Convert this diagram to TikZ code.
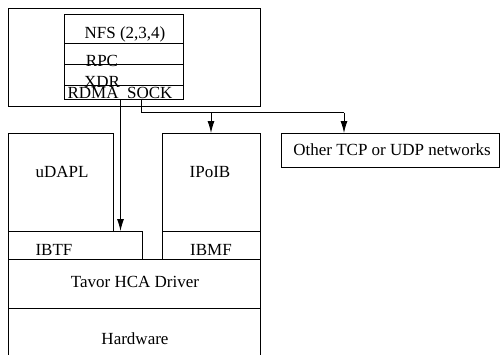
\documentclass[tikz,border=0pt]{standalone}
\usepackage{fontspec}
\setmainfont{Liberation Serif}
\usetikzlibrary{arrows.meta}
\begin{document}
\begin{tikzpicture}[x=1pt,y=-1pt,line width=0.9pt,
  box/.style={draw,rectangle,inner sep=0pt,anchor=north west},
  txt/.style={anchor=base,inner sep=0pt,font=\fontsize{17}{20}\selectfont},
  arr/.style={-{Latex[length=12pt,width=7pt]}}]
\useasboundingbox (0,0) rectangle (500,354);
\begin{scope}
\clip (0,0) rectangle (500,354);
% host side: NFS stack inside the client box
\node[box,minimum width=252pt,minimum height=98pt] (host) at (8,8) {};
\node[box,minimum width=119pt,minimum height=29pt] (nfs) at (64,14) {};
\node[box,minimum width=119pt,minimum height=21pt] (rpc) at (64,43) {};
\node[box,minimum width=119pt,minimum height=21pt] (xdr) at (64,64) {};
\node[box,minimum width=119pt,minimum height=14pt] (rdmasock) at (64,85) {};
\node[txt] (tnfs) at (125,38) {NFS (2,3,4)};
\node[txt] (trpc) at (102,66) {RPC};
\node[txt] (txdr) at (102,87) {XDR};
\node[txt] (trdma) at (120,98.5) {RDMA\ \ SOCK};
% InfiniBand stack
\node[box,minimum width=105pt,minimum height=98pt] (udapl) at (8,133) {};
\node[box,minimum width=133.5pt,minimum height=28pt] (ibtf) at (8,231) {};
\node[box,minimum width=98pt,minimum height=98pt] (ipoib) at (162,133) {};
\node[box,minimum width=98pt,minimum height=28pt] (ibmf) at (162,231) {};
\node[box,minimum width=252pt,minimum height=49pt] (tavor) at (8,259) {};
\node[box,minimum width=252pt,minimum height=60pt] (hw) at (8,308) {};
\node[txt] (tudapl) at (62,177) {uDAPL};
\node[txt] (tipoib) at (210,177) {IPoIB};
\node[txt] (tibtf) at (54,255) {IBTF};
\node[txt] (tibmf) at (211,255) {IBMF};
\node[txt] (ttavor) at (135,287) {Tavor HCA Driver};
\node[txt] (thw) at (135,344) {Hardware};
% other networks
\node[box,minimum width=218pt,minimum height=34pt] (other) at (281,133) {};
\node[txt] (tother) at (392,155) {Other TCP or UDP networks};
\end{scope}
% connectors
\coordinate (rdmaout) at (120.5,99);
\coordinate (sockout) at (141.5,99);
\coordinate (bend) at (141.5,112.5);
\coordinate (split) at (211,112.5);
\coordinate (corner) at (344,112.5);
\draw[arr] (rdmaout) -- (rdmaout |- ibtf.north);
\draw (sockout) -- (bend) -- (corner);
\draw[arr] (corner) -- (corner |- other.north);
\draw[arr] (split) -- (split |- ipoib.north);
\end{tikzpicture}
\end{document}
